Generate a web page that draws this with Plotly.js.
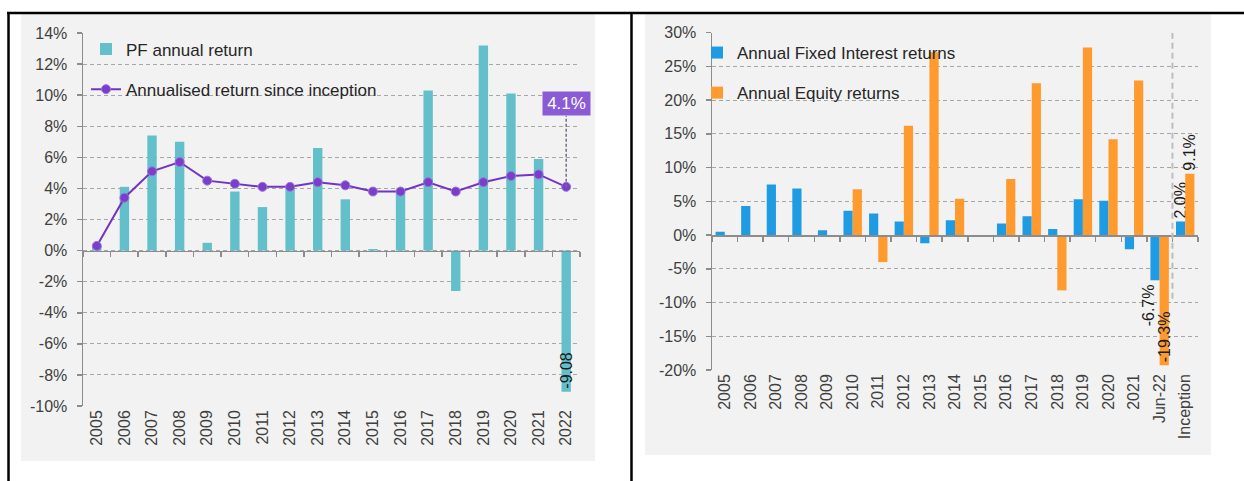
<!DOCTYPE html>
<html>
<head>
<meta charset="utf-8">
<script src="https://cdn.plot.ly/plotly-3.0.1.min.js"></script>
<style>
  html, body { margin: 0; padding: 0; background: #ffffff; }
  #chart { width: 1244px; height: 481px; }
</style>
</head>
<body>
<div id="chart"></div>
<script>
// ---------- Data: left chart ----------
const years = ['2005','2006','2007','2008','2009','2010','2011','2012','2013','2014','2015','2016','2017','2018','2019','2020','2021','2022'];
const pfAnnualReturn = [0.3, 4.1, 7.4, 7.0, 0.5, 3.8, 2.8, 4.0, 6.6, 3.3, 0.1, 3.8, 10.3, -2.6, 13.2, 10.1, 5.9, -9.08];
const annualisedSinceInception = [0.3, 3.4, 5.1, 5.7, 4.5, 4.3, 4.1, 4.1, 4.4, 4.2, 3.8, 3.8, 4.4, 3.8, 4.4, 4.8, 4.9, 4.1];
const pfBarLabels = ['', '', '', '', '', '', '', '', '', '', '', '', '', '', '', '', '', '-9.08'];
const leftTicks = [-10, -8, -6, -4, -2, 0, 2, 4, 6, 8, 10, 12, 14];

// ---------- Data: right chart ----------
const periods = ['2005','2006','2007','2008','2009','2010','2011','2012','2013','2014','2015','2016','2017','2018','2019','2020','2021','Jun-22','Inception'];
const fixedInterestReturns = [0.5, 4.3, 7.5, 6.9, 0.7, 3.6, 3.2, 2.0, -1.2, 2.2, 0.0, 1.7, 2.8, 0.9, 5.3, 5.1, -2.1, -6.7, 2.0];
const equityReturns = [null, null, null, null, null, 6.8, -4.0, 16.2, 27.1, 5.4, -0.2, 8.3, 22.5, -8.2, 27.8, 14.2, 22.9, -19.3, 9.1];
const fixedLabels = ['', '', '', '', '', '', '', '', '', '', '', '', '', '', '', '', '', '-6.7%', '2.0%'];
const equityLabels = ['', '', '', '', '', '', '', '', '', '', '', '', '', '', '', '', '', '-19.3%', '9.1%'];
const rightTicks = [-20, -15, -10, -5, 0, 5, 10, 15, 20, 25, 30];

// ---------- Layout geometry ----------
const W = 1244, H = 481;
const FONT = 'Liberation Sans, Arial, sans-serif';
const px = (x) => x / W;
const py = (y) => 1 - y / H;

const leftRange = [-10, 14];
const rightRange = [-20, 30];
const leftXDom = [px(83), px(580)];
const leftYDom = [py(406), py(33)];
const rightXDom = [px(712), px(1198)];
const rightYDom = [py(370), py(32.7)];

const zeroPos = (dom, rng) => dom[0] + (0 - rng[0]) / (rng[1] - rng[0]) * (dom[1] - dom[0]);
const leftPxPerUnit = (leftYDom[1] - leftYDom[0]) * H / (leftRange[1] - leftRange[0]);

const tickColor = '#404040';
const axisColor = '#8c8c8c';
const gridColor = '#a6a6a6';

const pct = (v) => v + '%';

const lastIdx = years.length - 1;
const lastAnnualised = annualisedSinceInception[lastIdx];
const junIdx = periods.indexOf('Jun-22');
const incIdx = periods.indexOf('Inception');
const BAR_W = 0.36;

const traces = [
  {
    type: 'bar', name: 'PF annual return',
    x: years, y: pfAnnualReturn,
    xaxis: 'x', yaxis: 'y',
    width: 0.34,
    marker: { color: '#63bfca' },
    text: pfBarLabels, textposition: 'inside', insidetextanchor: 'end',
    textangle: -90, constraintext: 'none',
    textfont: { family: FONT, size: 16, color: '#1a1a1a' },
    legend: 'legend', legendgroup: 'a',
    hoverinfo: 'x+y'
  },
  {
    type: 'scatter', mode: 'lines+markers', name: 'Annualised return since inception',
    x: years, y: annualisedSinceInception,
    xaxis: 'x', yaxis: 'y',
    line: { color: '#7334c4', width: 2 },
    marker: { color: '#7a3fc9', size: 9, line: { color: '#9d74de', width: 1 } },
    legend: 'legend', legendgroup: 'b'
  },
  {
    type: 'scatter', mode: 'lines', x: years, y: years.map(() => null),
    xaxis: 'x3', yaxis: 'y', showlegend: false, hoverinfo: 'skip'
  },
  {
    type: 'bar', name: 'Annual Fixed Interest returns',
    x: periods, y: fixedInterestReturns,
    xaxis: 'x2', yaxis: 'y2',
    width: BAR_W, offset: -BAR_W,
    marker: { color: '#1f9be3' },
    text: fixedLabels,
    textposition: periods.map((p, i) => i === junIdx ? 'none' : 'outside'),
    textangle: -90, constraintext: 'none', cliponaxis: false,
    textfont: { family: FONT, size: 16, color: '#1a1a1a' },
    legend: 'legend2', legendgroup: 'c'
  },
  {
    type: 'bar', name: 'Annual Equity returns',
    x: periods, y: equityReturns,
    xaxis: 'x2', yaxis: 'y2',
    width: BAR_W, offset: 0,
    marker: { color: '#ff9a2f' },
    text: equityLabels,
    textposition: periods.map((p, i) => i === junIdx ? 'inside' : 'outside'),
    insidetextanchor: 'end',
    textangle: -90, constraintext: 'none', cliponaxis: false,
    textfont: { family: FONT, size: 16, color: '#1a1a1a' },
    legend: 'legend2', legendgroup: 'd'
  },
  {
    type: 'scatter', mode: 'lines', x: periods, y: periods.map(() => null),
    xaxis: 'x4', yaxis: 'y2', showlegend: false, hoverinfo: 'skip'
  }
];

const yAxisCommon = {
  showline: true, linecolor: axisColor, linewidth: 1.5,
  ticks: 'outside', ticklen: 5, tickcolor: axisColor, tickwidth: 1.5,
  showgrid: true, gridcolor: gridColor, griddash: '4px,3px', gridwidth: 1,
  zeroline: false,
  tickfont: { family: FONT, size: 16, color: tickColor },
  ticklabelstandoff: 6,
  fixedrange: true
};

const xLabelAxis = {
  type: 'category', showline: false, ticks: '', showgrid: false, zeroline: false,
  tickangle: -90,
  tickfont: { family: FONT, size: 16, color: tickColor },
  fixedrange: true
};

const xZeroAxis = {
  type: 'category', anchor: 'free', side: 'bottom',
  showline: true, linecolor: axisColor, linewidth: 1.5,
  ticks: 'outside', tickson: 'boundaries', ticklen: 5, tickcolor: axisColor, tickwidth: 1.5,
  showticklabels: false, showgrid: false, zeroline: false, fixedrange: true
};

const layout = {
  width: W, height: H,
  margin: { l: 0, r: 0, t: 0, b: 0, pad: 0 },
  paper_bgcolor: '#ffffff',
  plot_bgcolor: 'rgba(0,0,0,0)',
  font: { family: FONT, size: 16, color: '#262626' },
  barmode: 'group',
  showlegend: true,
  xaxis: Object.assign({}, xLabelAxis, { domain: leftXDom, anchor: 'y', range: [-0.5, years.length - 0.5] }),
  yaxis: Object.assign({}, yAxisCommon, { domain: leftYDom, anchor: 'x', range: leftRange, tickvals: leftTicks, ticktext: leftTicks.map(pct) }),
  xaxis3: Object.assign({}, xZeroAxis, { overlaying: 'x', position: zeroPos(leftYDom, leftRange), range: [-0.5, years.length - 0.5] }),
  xaxis2: Object.assign({}, xLabelAxis, { domain: rightXDom, anchor: 'y2', range: [-0.5, periods.length - 0.5] }),
  yaxis2: Object.assign({}, yAxisCommon, { domain: rightYDom, anchor: 'x2', range: rightRange, tickvals: rightTicks, ticktext: rightTicks.map(pct) }),
  xaxis4: Object.assign({}, xZeroAxis, { overlaying: 'x2', position: zeroPos(rightYDom, rightRange), range: [-0.5, periods.length - 0.5] }),
  legend: {
    x: px(86), y: py(31.5), xanchor: 'left', yanchor: 'top',
    bgcolor: 'rgba(0,0,0,0)', traceorder: 'grouped', tracegroupgap: 15,
    font: { family: FONT, size: 17, color: '#262626' }
  },
  legend2: {
    x: px(697), y: py(35), xanchor: 'left', yanchor: 'top',
    bgcolor: 'rgba(0,0,0,0)', traceorder: 'grouped', tracegroupgap: 15,
    font: { family: FONT, size: 17, color: '#262626' }
  },
  shapes: [
    // panel backgrounds
    { type: 'rect', xref: 'paper', yref: 'paper', x0: px(21), x1: px(595), y0: py(461), y1: py(14), fillcolor: '#f2f2f2', line: { width: 0 }, layer: 'below' },
    { type: 'rect', xref: 'paper', yref: 'paper', x0: px(645), x1: px(1211), y0: py(455), y1: py(14), fillcolor: '#f2f2f2', line: { width: 0 }, layer: 'below' },
    // table borders
    { type: 'line', xref: 'paper', yref: 'paper', x0: px(7), x1: px(1244), y0: py(13), y1: py(13), line: { color: '#000000', width: 2.5 } },
    { type: 'line', xref: 'paper', yref: 'paper', x0: px(8.5), x1: px(8.5), y0: py(13), y1: py(481), line: { color: '#000000', width: 2.5 } },
    { type: 'line', xref: 'paper', yref: 'paper', x0: px(631.5), x1: px(631.5), y0: py(13), y1: py(481), line: { color: '#000000', width: 2.5 } },
    // connector from last annualised point to its label
    { type: 'line', xref: 'x', yref: 'y', x0: lastIdx, x1: lastIdx, y0: lastAnnualised, y1: lastAnnualised + 71 / leftPxPerUnit, line: { color: '#6e6e8a', width: 1.5, dash: '3px,2px' } },
    // separator before inception in right chart
    { type: 'line', xref: 'x2', yref: 'y2', x0: incIdx - 0.5, x1: incIdx - 0.5, y0: rightRange[1], y1: -10, line: { color: '#bdbdbd', width: 2, dash: '6px,4px' } }
  ],
  annotations: [
    {
      xref: 'x', yref: 'y', x: lastIdx, y: lastAnnualised,
      text: pct(lastAnnualised.toFixed(1)), showarrow: false,
      yanchor: 'bottom', yshift: 71,
      bgcolor: '#8b5bd6', borderpad: 3, width: 41, height: 17,
      font: { family: FONT, size: 17, color: '#ffffff' }
    },
    {
      xref: 'x2', yref: 'y2', x: junIdx - BAR_W / 2, y: fixedInterestReturns[junIdx],
      text: fixedLabels[junIdx], showarrow: false, textangle: -90,
      xanchor: 'center', yanchor: 'top', xshift: -7, yshift: -2,
      font: { family: FONT, size: 16, color: '#1a1a1a' }
    }
  ]
};

Plotly.newPlot('chart', traces, layout, { staticPlot: true, displayModeBar: false });
</script>
</body>
</html>
